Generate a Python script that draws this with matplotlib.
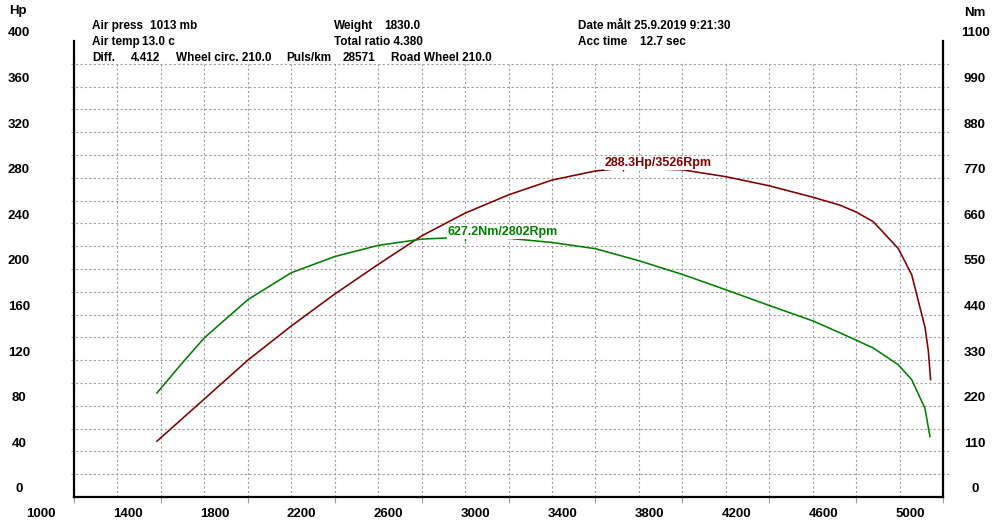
import matplotlib.pyplot as plt
from matplotlib.transforms import ScaledTranslation

# power curve (Hp)
rpm_hp = [1382, 1600, 1800, 2000, 2200, 2400, 2600, 2800, 3000, 3200, 3400, 3526,
          3600, 3800, 4000, 4200, 4400, 4526, 4600, 4679, 4794, 4856, 4917, 4932, 4943]
hp = [49, 86, 120, 150, 178, 204, 229, 249, 265, 278, 286, 288.3,
      288.2, 287, 281, 273, 263, 256, 250, 241.5, 218, 195, 149, 129, 103]

# torque curve (Nm)
rpm_nm = [1382, 1488, 1600, 1800, 2000, 2200, 2400, 2600, 2802, 3000, 3200, 3400,
          3600, 3800, 4000, 4200, 4400, 4526, 4679, 4794, 4856, 4917, 4940]
nm = [251, 317, 384, 476, 541, 580, 607, 622, 627.2, 624, 614, 599,
      570, 537, 500, 462, 425, 396, 359.5, 319, 283, 214, 146]

peak_hp = (3526, 288.3)
peak_nm = (2802, 627.2)

rpm_ticks = list(range(1000, 5001, 400))
hp_ticks = list(range(0, 401, 40))
nm_ticks = list(range(0, 1101, 110))

# header block: (x px, y px, text)
header = [
    (92, 26, "Air press"), (150, 26, "1013 mb"),
    (92, 42, "Air temp"), (142, 42, "13.0 c"),
    (92, 58, "Diff."), (131, 58, "4.412"), (176, 58, "Wheel circ. 210.0"),
    (286, 58, "Puls/km"), (343, 58, "28571"), (391, 58, "Road Wheel 210.0"),
    (334, 26, "Weight"), (384, 26, "1830.0"),
    (334, 42, "Total ratio 4.380"),
    (578, 26, "Date målt 25.9.2019 9:21:30"),
    (578, 42, "Acc time"), (640, 42, "12.7 sec"),
]

plt.rcParams['font.family'] = ['Liberation Sans', 'DejaVu Sans']
plt.rcParams['font.weight'] = 'bold'
plt.rcParams['font.size'] = 8.5

RED = '#800000'
GREEN = '#008000'
GRID = '#a0a0a0'
W, H = 1000, 529
TICK_FS = 9.5

fig = plt.figure(figsize=(10, 5.29), dpi=100)
ax = fig.add_axes([74 / W, 1 - 497 / H, 869 / W, 456 / H])
ax2 = ax.twinx()
ax.set_xlim(1000, 5000)
ax.set_ylim(0, 400)
ax2.set_ylim(0, 1100)

# dotted grid, horizontal every 20 Hp, vertical every 200 rpm
for y in range(20, 400, 20):
    ax.axhline(y, xmin=-0.004, xmax=1.008, color=GRID, lw=0.8,
               ls=(0, (2, 2)), clip_on=False, zorder=0)
ax.vlines(range(1200, 5000, 200), 0, 380, colors=GRID, lw=0.8,
          linestyles=(0, (2, 2)), zorder=0)

ax.plot(rpm_hp, hp, color=RED, lw=1.15, zorder=2)
ax2.plot(rpm_nm, nm, color=GREEN, lw=1.15, zorder=2)

ax.plot(*peak_hp, marker='|', ms=5, color=RED, zorder=4)
ax2.plot(*peak_nm, marker='|', ms=6, color=GREEN, zorder=4)
box = dict(boxstyle='square,pad=0.05', fc='white', ec='none')
ax.annotate(f"{peak_hp[1]}Hp/{peak_hp[0]}Rpm", xy=peak_hp, xytext=(-18, 5),
            textcoords='offset pixels', ha='left', va='center', color=RED,
            fontsize=9, bbox=box, zorder=5)
ax2.annotate(f"{peak_nm[1]}Nm/{peak_nm[0]}Rpm", xy=peak_nm, xytext=(-18, 5),
             textcoords='offset pixels', ha='left', va='center', color=GREEN,
             fontsize=9, bbox=box, zorder=5)

# spines
for a in (ax, ax2):
    a.spines['top'].set_visible(False)
ax.spines['right'].set_visible(False)
ax2.spines['left'].set_visible(False)
ax2.spines['bottom'].set_visible(False)
for s in (ax.spines['left'], ax.spines['bottom'], ax2.spines['right']):
    s.set_linewidth(1.6)
    s.set_color('black')

# ticks
ax.set_xticks(rpm_ticks)
ax.set_xticklabels([str(r) for r in rpm_ticks], fontsize=TICK_FS)
ax.tick_params(axis='x', direction='out', length=4, width=0.8, color=GRID, pad=4)
ax.set_yticks(hp_ticks)
ax.set_yticklabels([str(v) for v in hp_ticks], fontsize=TICK_FS)
ax.tick_params(axis='y', length=0, pad=55 * 0.72)
ax2.set_yticks(nm_ticks)
ax2.set_yticklabels([str(v) for v in nm_ticks], fontsize=TICK_FS)
ax2.tick_params(axis='y', length=0, pad=32 * 0.72)

shift_x = ScaledTranslation(-33 / 100, 0, fig.dpi_scale_trans)
shift_y = ScaledTranslation(0, 9 / 100, fig.dpi_scale_trans)
for lab in ax.get_xticklabels():
    lab.set_transform(lab.get_transform() + shift_x)
for lab in ax.get_yticklabels() + ax2.get_yticklabels():
    lab.set_ha('center')
    lab.set_transform(lab.get_transform() + shift_y)

fig.text(17.5 / W, 1 - 11 / H, "Hp", ha='center', va='center', fontsize=TICK_FS)
fig.text(975 / W, 1 - 13 / H, "Nm", ha='center', va='center', fontsize=TICK_FS)
for x, y, s in header:
    fig.text(x / W, 1 - y / H, s, ha='left', va='center')

fig.savefig('out.png', dpi=100)
